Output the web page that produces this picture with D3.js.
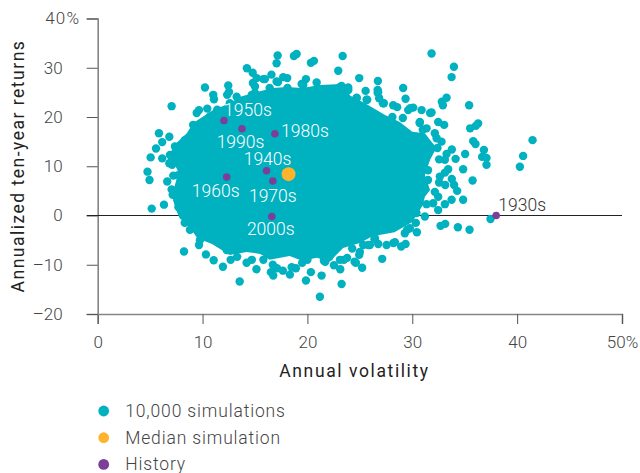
<!DOCTYPE html>
<html>
<head>
<meta charset="utf-8">
<script src="https://cdn.jsdelivr.net/npm/d3@7"></script>
<style>
  html, body { margin: 0; padding: 0; background: #fff; }
  svg { display: block; }
  text { font-family: "Roboto", sans-serif; font-weight: 300; }
</style>
</head>
<body>
<div id="chart"></div>
<script>
var xTicks = [0, 10, 20, 30, 40, 50];
var yTicks = [-20, -10, 0, 10, 20, 30, 40];
var legendLabels = ["10,000 simulations", "Median simulation", "History"];

// dots that can be told apart around the edge of the cloud [volatility, return]
var simulations = [
  [7.05,22.2],[5.84,16.7],[6.83,16.0],[6.15,14.9],[5.56,13.6],[5.05,11.8],[6.15,11.6],[4.75,8.9],
  [4.94,7.2],[6.63,6.9],[7.05,5.3],[7.15,4.2],[6.32,2.2],[5.15,1.4],[10.23,26.0],[11.02,24.5],
  [11.09,23.6],[12.45,26.4],[12.52,25.1],[12.35,24.5],[9.44,20.8],[9.66,21.4],[10.45,21.7],[11.4,21.5],
  [14.23,29.9],[14.78,29.0],[15.16,27.9],[15.95,27.7],[15.0,26.2],[16.57,28.6],[17.16,32.5],[17.06,30.9],
  [18.71,32.4],[18.97,32.8],[20.33,31.0],[20.62,31.4],[17.69,28.1],[18.07,27.9],[17.06,27.2],[19.86,27.7],
  [19.45,26.7],[23.36,32.4],[22.94,29.4],[24.94,27.9],[26.72,27.3],[29.13,25.9],[29.36,23.7],[31.84,32.9],
  [33.97,30.2],[33.75,28.1],[33.27,23.9],[32.82,23.1],[32.92,22.4],[35.42,22.4],[36.28,18.7],[36.06,18.2],
  [35.52,17.7],[41.47,15.3],[40.57,12.1],[40.26,9.9],[35.81,15.1],[36.03,14.5],[36.83,13.3],[36.66,11.9],
  [37.08,11.7],[37.08,10.3],[35.04,12.5],[34.85,9.4],[35.75,7.1],[34.13,11.5],[33.77,13.4],[33.27,12.5],
  [33.11,11.3],[32.56,11.4],[33.42,9.4],[33.11,8.7],[32.63,7.9],[32.56,6.7],[33.14,6.2],[33.77,7.4],
  [33.99,6.2],[34.28,5.0],[34.85,3.2],[33.75,3.2],[33.11,2.3],[32.47,1.1],[32.15,4.8],[32.47,3.8],
  [31.99,2.5],[31.36,2.3],[31.2,-0.2],[30.34,-1.5],[30.44,-3.4],[29.51,-2.9],[29.29,-3.6],[32.7,-2.1],
  [33.14,-1.7],[34.35,-2.4],[35.46,-2.9],[37.46,-0.7],[33.04,18.4],[32.47,19.0],[30.89,21.4],[31.84,20.9],
  [30.09,21.9],[29.61,21.4],[28.18,22.4],[28.56,22.0],[27.29,22.8],[26.75,25.1],[26.84,23.8],[25.55,25.3],
  [25.64,23.5],[24.69,23.8],[32.15,16.7],[32.32,15.7],[32.79,15.0],[30.72,19.0],[31.36,17.7],[23.89,26.0],
  [23.26,26.3],[27.13,-8.8],[25.22,-10.6],[23.26,-13.9],[23.13,-10.9],[22.53,-10.1],[23.79,-8.6],[23.48,-9.0],
  [24.62,-9.6],[24.94,-8.0],[21.19,-16.5],[21.35,-12.2],[29.36,-5.8],[28.94,-6.3],[28.34,-5.4],[27.55,-6.0],
  [26.75,-5.8],[25.96,-6.0],[25.32,-6.0],[26.43,-4.6],[24.27,-6.7],[21.57,-9.2],[29.77,-2.6],[8.23,-7.3],
  [10.32,-7.9],[11.06,-9.1],[11.94,-10.4],[12.68,-9.0],[12.3,-7.0],[13.54,-13.4],[14.2,-9.6],[15.14,-10.9],
  [16.52,-11.5],[16.74,-12.2],[17.66,-11.2],[18.33,-12.0],[18.9,-10.7],[19.86,-13.2],[20.33,-11.5],[9.66,-6.0],
  [9.75,-5.0],[20.88,27.0],[21.98,25.5],[21.19,25.5],[7.37,14.0],[7.85,14.1],[6.89,12.3],[6.83,10.6],
  [7.15,11.3],[7.21,8.1],[7.68,8.2],
  // merged dots along the rim of the cloud
  [9.1,18.4],[9.9,18.7],[10.7,20.1],[8.3,15.3],[12.6,22.8],[13.25,24.1],[14.7,24.5],[14.8,26.9],
  [15.8,27.7],[15.0,24.9],[16.4,25.9],[17.2,27.1],[18.1,25.9],[19.6,26.5],[21.2,24.9],[22.1,25.1],
  [23.1,26.1],[23.9,25.5],[24.7,23.9],[25.7,23.5],[26.7,25.5],[26.7,24.9],[27.2,22.8],[29.8,21.8],
  [29.1,19.8],[28.1,20.0],[30.7,18.8],[31.0,17.4],[31.7,20.8],[31.7,13.9],[32.4,13.7],[31.5,9.2],
  [31.5,7.2],[31.0,11.3],[30.4,0.5],[28.2,-5.6],[26.4,-4.8],[25.8,-6.0],[25.0,-7.4],[7.6,11.9],
  [8.1,13.3],[7.1,10.3],[7.8,4.6],[7.6,3.1],[7.7,1.7],[8.3,-1.5],[8.8,-2.9],[10.7,-3.6],
  [11.4,-5.0],[12.4,-7.0],[13.6,-6.0],[13.3,-8.4],[14.7,-9.0],[15.8,-9.0],[16.7,-10.0],[17.1,-10.7],
  [18.5,-10.5],[19.5,-9.6],[20.0,-9.0],[21.7,-9.4],[22.1,-8.4],[23.1,-9.0],[24.5,-9.4]
];

// outline of the saturated middle, where the single dots can't be read any more
var cloudCore = [
  [8.5,16.7],[9.1,18.8],[11.0,21.4],[12.6,22.8],[13.6,24.1],[15.2,25.1],[16.7,25.9],[18.0,26.1],[19.5,25.9],
  [21.2,26.5],[23.3,26.7],[24.1,24.3],[25.5,22.8],[27.4,20.4],[28.8,19.0],[30.0,17.0],[31.2,16.7],[32.3,13.7],
  [31.7,11.3],[31.2,8.2],[31.7,5.2],[31.2,3.8],[31.0,2.1],[30.0,-1.3],[28.3,-3.4],[26.2,-4.2],[25.0,-5.6],
  [23.4,-6.6],[22.1,-9.4],[20.9,-8.6],[19.5,-9.2],[18.3,-8.2],[16.4,-9.0],[15.5,-7.8],[14.2,-7.4],[12.6,-8.0],
  [10.9,-5.8],[9.5,-4.6],[8.8,-2.5],[7.8,-0.5],[7.4,1.5],[7.1,4.2],[7.7,8.8],[6.9,12.3],[7.2,14.1]
];

var medianSimulation = [18.2, 8.4];

var decades = ["1930s", "1940s", "1950s", "1960s", "1970s", "1980s", "1990s", "2000s"];
var historyVol = [38.0, 16.1, 12.04, 12.3, 16.7, 16.9, 13.76, 16.6];
var historyRet = [0.0, 9.1, 19.3, 7.8, 7.0, 16.6, 17.6, -0.2];

// label offsets from each decade's dot, in pixels
var labelDx = [26, 1, 24, -11, 0, 30, -1.5, -1];
var labelDy = [-5, -6, -4, 20, 21, 3, 19, 19];

var svgWidth = 640;
var svgHeight = 473;

var teal = "#00b1c0";
var orange = "#fdb32b";
var purple = "#7c3f98";

var svg = d3.select("#chart")
  .append("svg")
  .attr("width", svgWidth)
  .attr("height", svgHeight);

var xScale = d3.scaleLinear().domain([0, 50]).range([97.7, 622]);
var yScale = d3.scaleLinear().domain([-20, 40]).range([314, 18.5]);

// Axes
var xAxis = d3.axisBottom(xScale)
  .tickValues(xTicks)
  .tickSize(10)
  .tickPadding(12)
  .tickFormat(d => d === 50 ? "50%" : d);

var yAxis = d3.axisLeft(yScale)
  .tickValues(yTicks)
  .tickSize(11)
  .tickPadding(24)
  .tickFormat(d => d < 0 ? "\u2013" + Math.abs(d) : (d === 40 ? "40%" : d));

var xGroup = svg.append("g")
  .attr("transform", `translate(0, ${yScale(-20)})`)
  .call(xAxis);

var yGroup = svg.append("g")
  .attr("transform", `translate(${xScale(0)}, 0)`)
  .call(yAxis);

[xGroup, yGroup].forEach(function(g) {
  g.select(".domain").attr("stroke", "#858585").attr("stroke-width", 1.6);
  g.selectAll(".tick line").attr("stroke", "#555").attr("stroke-width", 1);
  g.selectAll("text").attr("font-size", 17).attr("fill", "#444").attr("font-family", "Roboto");
});

// the % hangs out to the right of the other y labels
yGroup.selectAll(".tick")
  .filter(d => d === 40)
  .select("text")
  .attr("x", -17.5)
  .attr("letter-spacing", 1.2);

// zero line
svg.append("line")
  .attr("x1", xScale(0) - 11)
  .attr("x2", xScale(50))
  .attr("y1", yScale(0))
  .attr("y2", yScale(0))
  .attr("stroke", "#222")
  .attr("stroke-width", 1.2);

// Simulation cloud
svg.append("path")
  .datum(cloudCore)
  .attr("d", d3.line().x(d => xScale(d[0])).y(d => yScale(d[1])).curve(d3.curveLinearClosed))
  .attr("fill", teal);

svg.append("g")
  .selectAll("circle")
  .data(simulations)
  .enter()
  .append("circle")
  .attr("cx", d => xScale(d[0]))
  .attr("cy", d => yScale(d[1]))
  .attr("r", 4.2)
  .attr("fill", teal);

svg.append("circle")
  .attr("cx", xScale(medianSimulation[0]))
  .attr("cy", yScale(medianSimulation[1]))
  .attr("r", 7)
  .attr("fill", orange);

// History dots and labels
svg.append("g")
  .selectAll("circle")
  .data(decades)
  .enter()
  .append("circle")
  .attr("cx", (d, i) => xScale(historyVol[i]))
  .attr("cy", (d, i) => yScale(historyRet[i]))
  .attr("r", 3.8)
  .attr("fill", purple);

svg.append("g")
  .selectAll("text")
  .data(decades)
  .enter()
  .append("text")
  .attr("x", (d, i) => xScale(historyVol[i]) + labelDx[i])
  .attr("y", (d, i) => yScale(historyRet[i]) + labelDy[i])
  .attr("text-anchor", "middle")
  .attr("font-size", 17.5)
  .attr("fill", d => d === "1930s" ? "#333" : "#fff")
  .text(d => d);

// Axis titles
svg.append("text")
  .attr("transform", "translate(24, 166) rotate(-90)")
  .attr("text-anchor", "middle")
  .attr("font-size", 17.5)
  .attr("letter-spacing", 1.5)
  .attr("fill", "#222")
  .style("font-weight", 400)
  .text("Annualized ten-year returns");

svg.append("text")
  .attr("x", 354.5)
  .attr("y", 377)
  .attr("text-anchor", "middle")
  .attr("font-size", 17.5)
  .attr("letter-spacing", 1.6)
  .attr("fill", "#222")
  .style("font-weight", 400)
  .text("Annual volatility");

// Legend
var legendColors = [teal, orange, purple];
var legendRow = svg.append("g")
  .selectAll("g")
  .data(legendLabels)
  .enter()
  .append("g")
  .attr("transform", (d, i) => `translate(103.7, ${411 + i * 26.7})`);

legendRow.append("circle")
  .attr("r", 5.4)
  .attr("fill", (d, i) => legendColors[i]);

legendRow.append("text")
  .attr("x", 21.5)
  .attr("y", 6)
  .attr("font-size", 17.5)
  .attr("letter-spacing", 0.85)
  .attr("fill", "#444")
  .text(d => d);
</script>
</body>
</html>
